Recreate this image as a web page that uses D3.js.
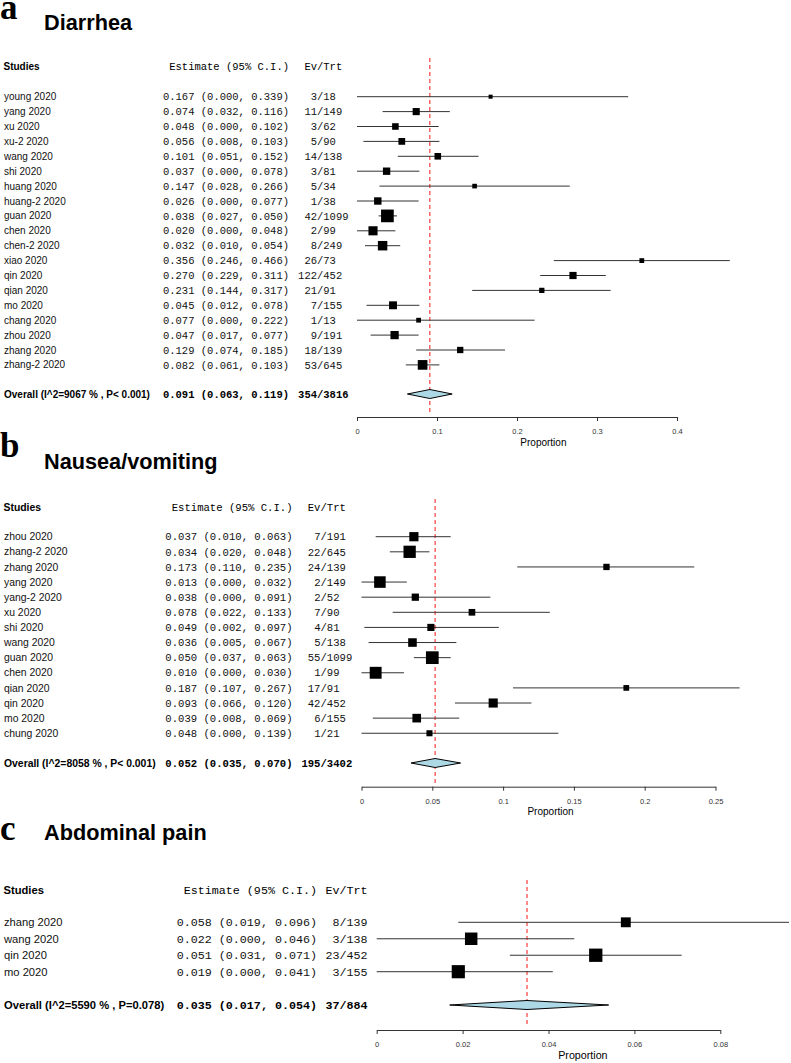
<!DOCTYPE html>
<html>
<head>
<meta charset="utf-8">
<script src="https://cdn.jsdelivr.net/npm/d3@7/dist/d3.min.js"></script>
<style>
  html, body { margin: 0; padding: 0; background: #fff; }
  svg { display: block; }
</style>
</head>
<body>
<svg id="chart" width="791" height="1063"></svg>
<script>
// ---------------- Panel a: Diarrhea ----------------
const studiesA = ["young 2020","yang 2020","xu 2020","xu-2 2020","wang 2020","shi 2020","huang 2020","huang-2 2020","guan 2020","chen 2020","chen-2 2020","xiao 2020","qin 2020","qian 2020","mo 2020","chang 2020","zhou 2020","zhang 2020","zhang-2 2020"];
const estA   = [0.167,0.074,0.048,0.056,0.101,0.037,0.147,0.026,0.038,0.020,0.032,0.356,0.270,0.231,0.045,0.077,0.047,0.129,0.082];
const lowerA = [0.000,0.032,0.000,0.008,0.051,0.000,0.028,0.000,0.027,0.000,0.010,0.246,0.229,0.144,0.012,0.000,0.017,0.074,0.061];
const upperA = [0.339,0.116,0.102,0.103,0.152,0.078,0.266,0.077,0.050,0.048,0.054,0.466,0.311,0.317,0.078,0.222,0.077,0.185,0.103];
const eventsA = [3,11,3,5,14,3,5,1,42,2,8,26,122,21,7,1,9,18,53];
const totalA  = [18,149,62,90,138,81,34,38,1099,99,249,73,452,91,155,13,191,139,645];
const overallA = [0.091, 0.063, 0.119];
const overallLabelA = "Overall (I^2=9067 % , P< 0.001)";
const ticksA = [0, 0.1, 0.2, 0.3, 0.4];

// ---------------- Panel b: Nausea/vomiting ----------------
const studiesB = ["zhou 2020","zhang-2 2020","zhang 2020","yang 2020","yang-2 2020","xu 2020","shi 2020","wang 2020","guan 2020","chen 2020","qian 2020","qin 2020","mo 2020","chung 2020"];
const estB   = [0.037,0.034,0.173,0.013,0.038,0.078,0.049,0.036,0.050,0.010,0.187,0.093,0.039,0.048];
const lowerB = [0.010,0.020,0.110,0.000,0.000,0.022,0.002,0.005,0.037,0.000,0.107,0.066,0.008,0.000];
const upperB = [0.063,0.048,0.235,0.032,0.091,0.133,0.097,0.067,0.063,0.030,0.267,0.120,0.069,0.139];
const eventsB = [7,22,24,2,2,7,4,5,55,1,17,42,6,1];
const totalB  = [191,645,139,149,52,90,81,138,1099,99,91,452,155,21];
const overallB = [0.052, 0.035, 0.070];
const overallLabelB = "Overall (I^2=8058 % , P< 0.001)";
const ticksB = [0, 0.05, 0.1, 0.15, 0.2, 0.25];

// ---------------- Panel c: Abdominal pain ----------------
const studiesC = ["zhang 2020","wang 2020","qin 2020","mo 2020"];
const estC   = [0.058,0.022,0.051,0.019];
const lowerC = [0.019,0.000,0.031,0.000];
const upperC = [0.096,0.046,0.071,0.041];
const eventsC = [8,3,23,3];
const totalC  = [139,138,452,155];
const overallC = [0.035, 0.017, 0.054];
const overallLabelC = "Overall (I^2=5590 % , P=0.078)";
const ticksC = [0, 0.02, 0.04, 0.06, 0.08];

const titles = ["Diarrhea", "Nausea/vomiting", "Abdominal pain"];
const letters = ["a", "b", "c"];

// layout (positions only)
const layouts = [
  {letterY:19, titleY:30, headerY:66.5, row0:96.7, step:14.9, overallY:394, axisY:417, x0:357, x1:677, estRight:289, slashX:317, mono:10.5, sans:10, refTop:58, maxBox:12.7},
  {letterY:457, titleY:468.5, headerY:507.7, row0:536.7, step:15.12, overallY:763, axisY:786.7, x0:361.5, x1:715.5, estRight:292.5, slashX:320.5, mono:10.6, sans:10.4, refTop:499, maxBox:12.7},
  {letterY:840, titleY:840, headerY:890, row0:922.3, step:16.47, overallY:1005, axisY:1030, x0:376.7, x1:720.3, estRight:317, slashX:339.5, mono:11.7, sans:11.2, refTop:880, maxBox:13.3}
];

const panels = [
  {studies:studiesA, est:estA, lo:lowerA, hi:upperA, ev:eventsA, n:totalA, overall:overallA, overallLabel:overallLabelA, ticks:ticksA},
  {studies:studiesB, est:estB, lo:lowerB, hi:upperB, ev:eventsB, n:totalB, overall:overallB, overallLabel:overallLabelB, ticks:ticksB},
  {studies:studiesC, est:estC, lo:lowerC, hi:upperC, ev:eventsC, n:totalC, overall:overallC, overallLabel:overallLabelC, ticks:ticksC}
];

const svg = d3.select("#chart");
const SANS = "'Liberation Sans', Arial, Helvetica, sans-serif";
const MONO = "'Liberation Mono', 'Courier New', monospace";
const SERIF = "'Liberation Serif', 'Times New Roman', serif";
const f3 = d3.format(".3f");

panels.forEach((p, pi) => {
  const L = layouts[pi];
  const g = svg.append("g");
  const x = d3.scaleLinear().domain([0, d3.max(p.ticks)]).range([L.x0, L.x1]);
  const rowY = i => L.row0 + i * L.step;
  const cw = L.mono * 0.6;
  const base = (y, fs) => y + fs * 0.35;

  // panel letter and title
  g.append("text").attr("x", 0).attr("y", L.letterY)
    .attr("font-family", SERIF).attr("font-weight", "bold").attr("font-size", 35)
    .text(letters[pi]);
  g.append("text").attr("x", 44).attr("y", L.titleY)
    .attr("font-family", SANS).attr("font-weight", "bold").attr("font-size", 21.7)
    .text(titles[pi]);

  // header
  g.append("text").attr("x", 3.5).attr("y", base(L.headerY, L.sans))
    .attr("font-family", SANS).attr("font-weight", "bold").attr("font-size", L.sans)
    .text("Studies");
  g.append("text").attr("x", L.estRight).attr("y", base(L.headerY, L.mono))
    .attr("text-anchor", "end").attr("font-family", MONO).attr("font-size", L.mono)
    .text("Estimate (95% C.I.)");
  g.append("text").attr("x", L.slashX - 2 * cw).attr("y", base(L.headerY, L.mono))
    .attr("font-family", MONO).attr("font-size", L.mono)
    .text("Ev/Trt");

  // study rows text
  const rows = p.studies.map((s, i) => ({s, est:p.est[i], lo:p.lo[i], hi:p.hi[i], ev:p.ev[i], n:p.n[i], i}));
  g.selectAll(".name").data(rows).join("text")
    .attr("x", 4).attr("y", d => base(rowY(d.i), L.sans))
    .attr("font-family", SANS).attr("font-size", L.sans).attr("fill", "#111")
    .text(d => d.s);
  g.selectAll(".estt").data(rows).join("text")
    .attr("x", L.estRight).attr("y", d => base(rowY(d.i), L.mono))
    .attr("text-anchor", "end").attr("font-family", MONO).attr("font-size", L.mono).attr("fill", "#111")
    .text(d => `${f3(d.est)} (${f3(d.lo)}, ${f3(d.hi)})`);
  g.selectAll(".evt").data(rows).join("text")
    .attr("x", d => L.slashX - String(d.ev).length * cw).attr("y", d => base(rowY(d.i), L.mono))
    .attr("font-family", MONO).attr("font-size", L.mono).attr("fill", "#111")
    .text(d => `${d.ev}/${d.n}`);

  // overall row text
  const totEv = d3.sum(p.ev), totN = d3.sum(p.n);
  g.append("text").attr("x", 4).attr("y", base(L.overallY, L.sans))
    .attr("font-family", SANS).attr("font-weight", "bold").attr("font-size", L.sans)
    .text(p.overallLabel);
  g.append("text").attr("x", L.estRight).attr("y", base(L.overallY, L.mono))
    .attr("text-anchor", "end").attr("font-family", MONO).attr("font-weight", "bold").attr("font-size", L.mono)
    .text(`${f3(p.overall[0])} (${f3(p.overall[1])}, ${f3(p.overall[2])})`);
  g.append("text").attr("x", L.slashX - String(totEv).length * cw).attr("y", base(L.overallY, L.mono))
    .attr("font-family", MONO).attr("font-weight", "bold").attr("font-size", L.mono)
    .text(`${totEv}/${totN}`);

  // reference line at overall estimate
  g.append("line")
    .attr("x1", x(p.overall[0])).attr("x2", x(p.overall[0]))
    .attr("y1", L.refTop).attr("y2", L.axisY - 3)
    .attr("stroke", "#ff4d4d").attr("stroke-width", 1.3).attr("stroke-dasharray", "4,3");

  // whiskers
  g.selectAll(".ci").data(rows).join("line")
    .attr("x1", d => x(d.lo)).attr("x2", d => x(d.hi))
    .attr("y1", d => rowY(d.i)).attr("y2", d => rowY(d.i))
    .attr("stroke", "#333").attr("stroke-width", 1);

  // boxes sized by precision
  const prec = rows.map(d => 1 / (d.hi - d.lo));
  const sz = d3.scaleSqrt().domain([0, d3.max(prec)]).range([1, L.maxBox]);
  g.selectAll(".box").data(rows).join("rect")
    .attr("x", d => x(d.est) - sz(1 / (d.hi - d.lo)) / 2)
    .attr("y", d => rowY(d.i) - sz(1 / (d.hi - d.lo)) / 2)
    .attr("width", d => sz(1 / (d.hi - d.lo)))
    .attr("height", d => sz(1 / (d.hi - d.lo)))
    .attr("fill", "#000");

  // diamond
  const h = 4.5, yo = L.overallY;
  g.append("path")
    .attr("d", `M${x(p.overall[1])},${yo} L${x(p.overall[0])},${yo - h} L${x(p.overall[2])},${yo} L${x(p.overall[0])},${yo + h} Z`)
    .attr("fill", "#add8e6").attr("stroke", "#000").attr("stroke-width", 1);

  // axis
  const ax = g.append("g").attr("transform", `translate(0,${L.axisY})`)
    .call(d3.axisBottom(x).tickValues(p.ticks).tickSize(4).tickSizeOuter(0).tickPadding(7.5).tickFormat(d => String(d)));
  ax.select(".domain").attr("stroke", "#333");
  ax.selectAll(".tick line").attr("stroke", "#333");
  ax.selectAll(".tick text").attr("font-family", SANS).attr("font-size", 7.5).attr("fill", "#333");

  const maxHi = d3.max(p.hi);
  g.append("text").attr("x", (x(0) + x(maxHi)) / 2).attr("y", L.axisY + 28.5)
    .attr("text-anchor", "middle").attr("font-family", SANS).attr("font-size", pi === 2 ? 10.7 : 10)
    .text("Proportion");
});
</script>
</body>
</html>
